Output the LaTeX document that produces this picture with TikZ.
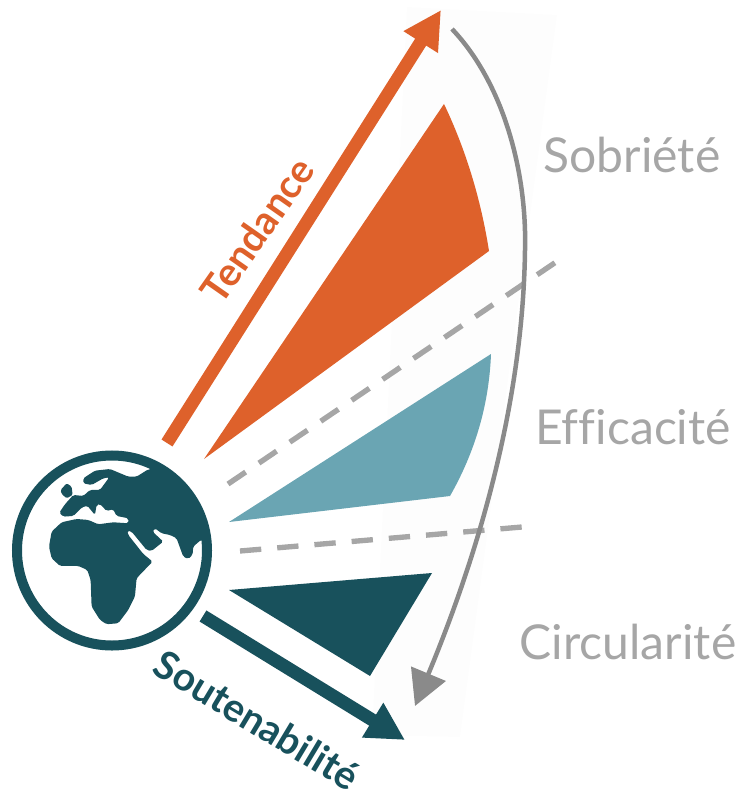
\documentclass[tikz,border=0pt]{standalone}
\usepackage{fontspec}
\setmainfont{Lato}[Ligatures=NoCommon]
\usetikzlibrary{arrows.meta,positioning}
\definecolor{tendanceOrange}{HTML}{DE612B}
\definecolor{soutenTeal}{HTML}{18515C}
\definecolor{midTeal}{HTML}{6AA5B3}
\definecolor{dashGray}{HTML}{A6A6A6}
\definecolor{arcGray}{HTML}{8A8A8A}
\definecolor{paperGray}{HTML}{FDFDFD}

\begin{document}
\begin{tikzpicture}[x=0.03cm, y=-0.03cm,
		globeRing/.style={
				draw=soutenTeal, shape=circle, line width=3mm,
				minimum size=5.7cm, inner sep=0pt
			},
		bigArrow/.style={
				line width=3.9mm,
				-{Triangle[length=11.4mm, width=11.4mm]}
			},
		sepLine/.style={dashGray, line width=1.6mm, dash pattern=on 6.4mm off 4.8mm},
		leverLabel/.style={text=dashGray, font=\fontsize{41}{41}\selectfont, inner sep=0pt},
		arrowLabel/.style={font=\fontsize{33.5}{34}\selectfont\bfseries, inner sep=0pt}
	]
	\useasboundingbox (0,0) rectangle (746,791);

	% faint sheet behind the arc
	\fill[paperGray] (407,7) -- (557,15) -- (460,737) -- (372,735) -- cycle;

	% wedges
	\fill[tendanceOrange] (204,459) -- (444,104) .. controls (466,150) and (481,200) .. (489,251) -- cycle;
	\fill[midTeal] (229,522) -- (491,354) .. controls (489,405) and (475,452) .. (450,496) -- cycle;
	\fill[soutenTeal] (229,590) -- (432,573) -- (370,676) -- cycle;

	% globe
	\node[globeRing] (globe) at (112,550.5) {};
	\begin{scope}[shift={(0,440)}, x=0.01cm, y=-0.01cm]
		\fill[soutenTeal, rounded corners=0.5mm] (445,88) -- (500,85) -- (600,200) -- (625,300) -- (603,300)
		-- (580,320) -- (578,345) -- (565,357) -- (550,350) -- (530,295) -- (510,285) -- (485,280)
		-- (465,265) -- (458,275) -- (490,305) -- (455,333) -- (440,330) -- (395,275) -- (382,272)
		-- (385,285) -- (430,342) -- (458,365) -- (410,415) -- (405,470) -- (385,510) -- (355,550)
		-- (320,553) -- (300,540) -- (275,500) -- (272,420) -- (262,390) -- (235,378) -- (180,378)
		-- (155,355) -- (147,320) -- (155,275) -- (185,247) -- (230,237) -- (265,240) -- (295,253)
		-- (340,247) -- (385,250) -- (385,235) -- (350,228) -- (340,208) -- (320,213) -- (300,192)
		-- (290,195) -- (285,225) -- (262,197) -- (245,203) -- (220,228) -- (190,230) -- (178,218)
		-- (195,193) -- (220,165) -- (250,168) -- (270,150) -- (300,150) -- (328,112) -- (310,115)
		-- (275,135) -- (250,130) -- (250,115) -- (285,92) -- (330,87) -- (385,110) -- (410,110) -- cycle;
		\fill[soutenTeal, rounded corners=0.4mm] (182,150) -- (200,130) -- (215,140) -- (218,165) -- (200,175) -- (185,162) -- cycle;
	\end{scope}

	% end points
	\coordinate (tendStart) at (167,443);
	\coordinate (tendTip) at (441,10);
	\coordinate (soutStart) at (203,616);
	\coordinate (soutTip) at (405,740);
	\coordinate (arcStart) at (452,29);
	\coordinate (arcTip) at (415,706);
	\coordinate (sepOneA) at (228,484);
	\coordinate (sepOneB) at (556,262);
	\coordinate (sepTwoA) at (240,551);
	\coordinate (sepTwoB) at (522,527);

	\draw[bigArrow, tendanceOrange] (tendStart) -- (tendTip);
	\draw[bigArrow, soutenTeal] (soutStart) -- (soutTip);
	\draw[sepLine] (sepOneA) -- (sepOneB);
	\draw[sepLine] (sepTwoA) -- (sepTwoB);
	\draw[arcGray, line width=1.35mm, -{Triangle[length=10.5mm, width=11mm]}] (arcStart)
	.. controls (505,85) and (527,175) .. (525,250)
	.. controls (523,400) and (480,550) .. (arcTip);

	% labels
	\node[arrowLabel, text=tendanceOrange, rotate=55] (tendLabel) at (257,230) {Tendance};
	\node[arrowLabel, text=soutenTeal, rotate=-31] (soutLabel) at (257,720) {Soutenabilité};
	\node[leverLabel] (sobrieteLabel) at (632,155) {Sobriété};
	\node[leverLabel] (efficaciteLabel) at (633,427) {Efficacité};
	\node[leverLabel] (circulariteLabel) at (628,642) {Circularité};
\end{tikzpicture}
\end{document}
